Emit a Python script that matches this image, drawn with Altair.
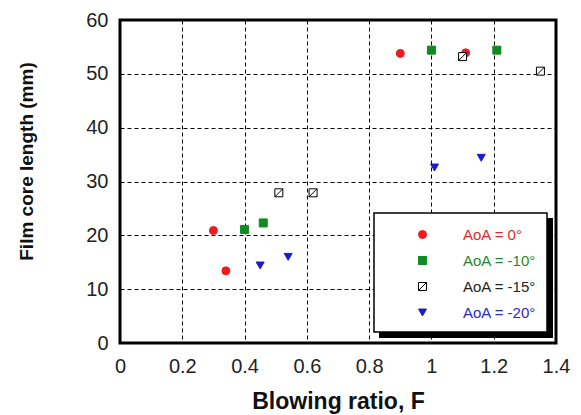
import altair as alt
import pandas as pd

# ---- data ----
series_names = ["AoA = 0°", "AoA = -10°", "AoA = -15°", "AoA = -20°"]
x_aoa0 = [0.30, 0.34, 0.90, 1.11]
y_aoa0 = [20.9, 13.4, 53.8, 53.9]
x_aoa10 = [0.40, 0.46, 1.00, 1.21]
y_aoa10 = [21.1, 22.3, 54.4, 54.4]
x_aoa15 = [0.51, 0.62, 1.10, 1.35]
y_aoa15 = [27.9, 27.9, 53.2, 50.5]
x_aoa20 = [0.45, 0.54, 1.01, 1.16]
y_aoa20 = [14.4, 16.0, 32.6, 34.4]

x_ticks = [0, 0.2, 0.4, 0.6, 0.8, 1.0, 1.2, 1.4]
y_ticks = [0, 10, 20, 30, 40, 50, 60]

colors = ["#ee1c1c", "#118a22", "#000000", "#1a1acc"]
fills = ["#ee1c1c", "#118a22", "#ffffff", "#1a1acc"]
label_colors = ["#e0282c", "#1f8a2e", "#222222", "#2a2ac0"]
hatched = "M-1,-1H1V1H-1Z M-1,1L1,-1"
shapes = ["circle", "square", hatched, "triangle-down"]

rows = []
for name, xs, ys in zip(series_names,
                        [x_aoa0, x_aoa10, x_aoa15, x_aoa20],
                        [y_aoa0, y_aoa10, y_aoa15, y_aoa20]):
    for xv, yv in zip(xs, ys):
        rows.append({"F": xv, "L": yv, "series": name})
df = pd.DataFrame(rows)

FONT = "Liberation Sans"
W, H = 436, 323

label_color_expr = (
    "datum.value == 'AoA = 0°' ? '%s' : datum.value == 'AoA = -10°' ? '%s' : "
    "datum.value == 'AoA = -15°' ? '%s' : '%s'" % tuple(label_colors)
)

points = alt.Chart(df).mark_point(filled=False, opacity=1, size=64, strokeWidth=1).encode(
    x=alt.X("F:Q", scale=alt.Scale(domain=[0, 1.4], nice=False),
            axis=alt.Axis(values=x_ticks, format="~g", title="Blowing ratio, F",
                          grid=True, gridDash=[4, 3], gridColor="#000000", gridWidth=1,
                          gridOpacity=1, ticks=False, tickSize=0, domain=False,
                          labelFontSize=20, labelFont=FONT, labelColor="#222222",
                          labelPadding=13, labelOverlap=False, labelFlush=False,
                          titleFont=FONT, titleFontSize=23, titleFontWeight="bold",
                          titleColor="#111111", titlePadding=14)),
    y=alt.Y("L:Q", scale=alt.Scale(domain=[0, 60], nice=False),
            axis=alt.Axis(values=y_ticks, title="Film core length (mm)",
                          grid=True, gridDash=[4, 3], gridColor="#000000", gridWidth=1,
                          gridOpacity=1, ticks=False, tickSize=0, domain=False,
                          labelFontSize=20, labelFont=FONT, labelColor="#222222",
                          labelPadding=12, labelOverlap=False, labelFlush=False,
                          titleFont=FONT, titleFontSize=19, titleFontWeight="bold",
                          titleColor="#111111", titlePadding=49, titleY=141)),
    shape=alt.Shape("series:N", sort=series_names,
                    scale=alt.Scale(domain=series_names, range=shapes),
                    legend=alt.Legend(title=None, orient="none", legendX=295, legendY=207,
                                      labelFont=FONT, labelFontSize=15,
                                      labelColor={"expr": label_color_expr},
                                      labelOffset=33, rowPadding=10, padding=0,
                                      symbolSize=64, symbolStrokeWidth=1,
                                      strokeColor="transparent")),
    fill=alt.Fill("series:N", sort=series_names,
                  scale=alt.Scale(domain=series_names, range=fills), legend=None),
    stroke=alt.Stroke("series:N", sort=series_names,
                      scale=alt.Scale(domain=series_names, range=colors), legend=None),
)

one = pd.DataFrame({"a": [0]})
shadow = alt.Chart(one).mark_rect(color="#000000").encode(
    x=alt.value(259), x2=alt.value(433), y=alt.value(198), y2=alt.value(318))
box = alt.Chart(one).mark_rect(fill="#ffffff", stroke="#000000", strokeWidth=1.5).encode(
    x=alt.value(254), x2=alt.value(427), y=alt.value(193), y2=alt.value(312))

chart = alt.layer(shadow, box, points).properties(
    width=W, height=H,
    autosize=alt.AutoSizeParams(type="none"),
    padding={"left": 112, "top": 12, "right": 16, "bottom": 72},
    background="#ffffff",
).configure_view(stroke="#000000", strokeWidth=3)

chart.save("out.html", embed_options={"renderer": "svg", "actions": False})
